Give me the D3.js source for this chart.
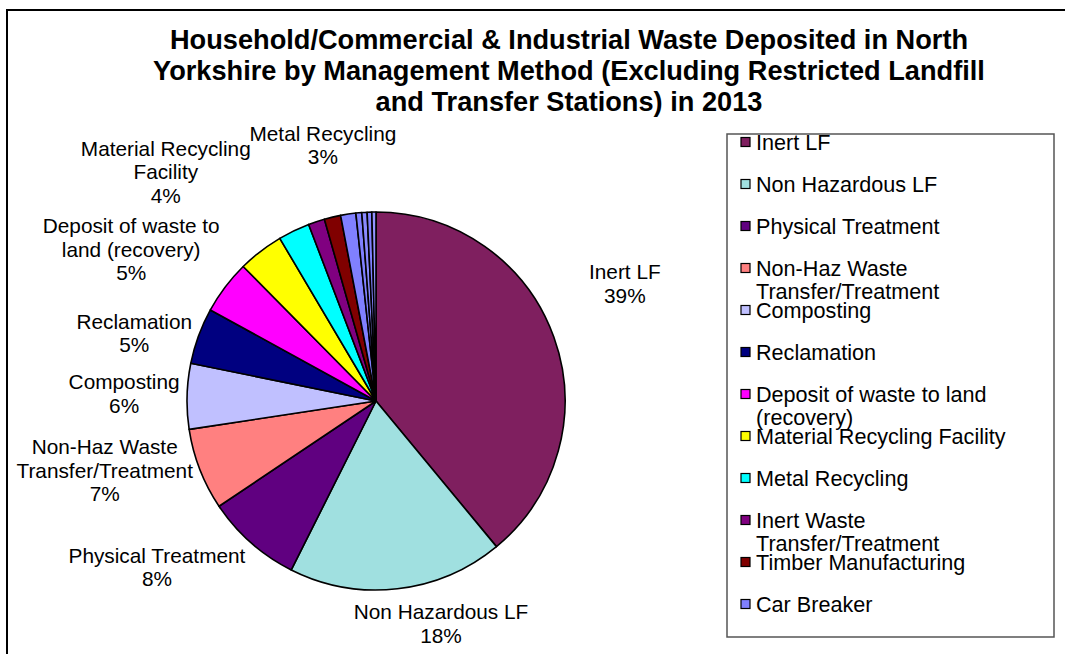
<!DOCTYPE html>
<html><head><meta charset="utf-8">
<script src="https://cdn.jsdelivr.net/npm/d3@7"></script>
<style>body{margin:0;background:#fff}svg{display:block}text{font-family:"Liberation Sans",Arial,sans-serif;fill:#000}</style>
</head><body><svg id="c" width="1065" height="654"></svg>
<script>
// ---- data ----
const categories = ["Inert LF","Non Hazardous LF","Physical Treatment","Non-Haz Waste Transfer/Treatment","Composting","Reclamation","Deposit of waste to land (recovery)","Material Recycling Facility","Metal Recycling","Inert Waste Transfer/Treatment","Timber Manufacturing","Car Breaker","Other A","Other B","Other C","Other D"];
const values = [39.0,18.4,8.2,7.0,5.6,4.8,4.6,3.9,2.7,1.4,1.4,1.3,0.5,0.45,0.4,0.35];
const titleLines = ["Household/Commercial & Industrial Waste Deposited in North","Yorkshire by Management Method (Excluding Restricted Landfill","and Transfer Stations) in 2013"];
const labelledCount = 9;   // slices carrying a data label
const legendCount = 12;    // entries visible in the legend box

// ---- styles / layout ----
const colors = ["#7F1F5F","#A0E0E0","#600080","#FF8080","#C0C0FF","#000080","#FF00FF","#FFFF00","#00FFFF","#800080","#800000","#8080FF","#8080FF","#8A8AFF","#8080FF","#9494FF"];
const labelDA = [-5.4,-9.8,11.4,6.9,0.2,-4.5,-5.3,-4.9,14];   // degrees nudge from slice middle
const labelDR = [7,-36,7,12,-16,-17,20,43,-7];                // px nudge from base label radius
const W = 1065, H = 654, cx = 376, cy = 401, R = 189, labelR = 268;
const labelFont = 20.8, legendFont = 21.6;
const svg = d3.select("#c");

// outer frame
svg.append("rect").attr("x",7).attr("y",10).attr("width",W+20).attr("height",H+20)
  .attr("fill","none").attr("stroke","#000").attr("stroke-width",2);

// title
const title = svg.append("text").attr("text-anchor","middle").attr("font-weight","bold").attr("font-size",27.2);
titleLines.forEach((t,i)=>title.append("tspan").attr("x",569).attr("y",49+i*31).text(t));

// helper to wrap text into lines by width
const meas = svg.append("text").attr("visibility","hidden");
function wrap(str, maxW, fs){
  meas.attr("font-size",fs);
  const words = str.split(" "); const lines = []; let cur = "";
  words.forEach(w=>{
    const test = cur ? cur+" "+w : w;
    meas.text(test);
    if (cur && meas.node().getComputedTextLength() > maxW){ lines.push(cur); cur = w; } else cur = test;
  });
  if (cur) lines.push(cur);
  return lines;
}

// pie
const pie = d3.pie().sort(null).value(d=>d).startAngle(0).endAngle(2*Math.PI);
const arcs = pie(values);
const arc = d3.arc().innerRadius(0).outerRadius(R);
const g = svg.append("g").attr("transform",`translate(${cx},${cy})`);
g.selectAll("path").data(arcs).join("path")
  .attr("d",arc).attr("fill",(d,i)=>colors[i]).attr("stroke","#000").attr("stroke-width",1.6).attr("stroke-linejoin","round");

// labels
const total = d3.sum(values);
const fmt = d3.format(".0%");
arcs.slice(0,labelledCount).forEach((d,i)=>{
  const a = (d.startAngle+d.endAngle)/2 + labelDA[i]*Math.PI/180;
  const r = labelR + labelDR[i];
  const x = cx + r*Math.sin(a), y = cy - r*Math.cos(a);
  const lines = wrap(categories[i],185,labelFont).concat([fmt(values[i]/total)]);
  const lh = 23.5;
  const t = svg.append("text").attr("text-anchor","middle").attr("font-size",labelFont);
  lines.forEach((l,k)=>t.append("tspan").attr("x",x).attr("y",y-(lines.length-1)*lh/2+k*lh).attr("dy","0.35em").text(l));
});

// legend
svg.append("rect").attr("x",727).attr("y",134).attr("width",327).attr("height",503)
  .attr("fill","#fff").attr("stroke","#555").attr("stroke-width",1.5);
const lg = svg.append("g");
categories.slice(0,legendCount).forEach((c,i)=>{
  const y = 142 + i*42;
  lg.append("rect").attr("x",741).attr("y",y-4.5).attr("width",9).attr("height",9)
    .attr("fill",colors[i]).attr("stroke","#000").attr("stroke-width",1.2);
  const t = lg.append("text").attr("font-size",legendFont);
  wrap(c,285,legendFont).forEach((l,k)=>t.append("tspan").attr("x",756).attr("y",y+k*23).attr("dy","0.35em").text(l));
});
meas.remove();
</script></body></html>
